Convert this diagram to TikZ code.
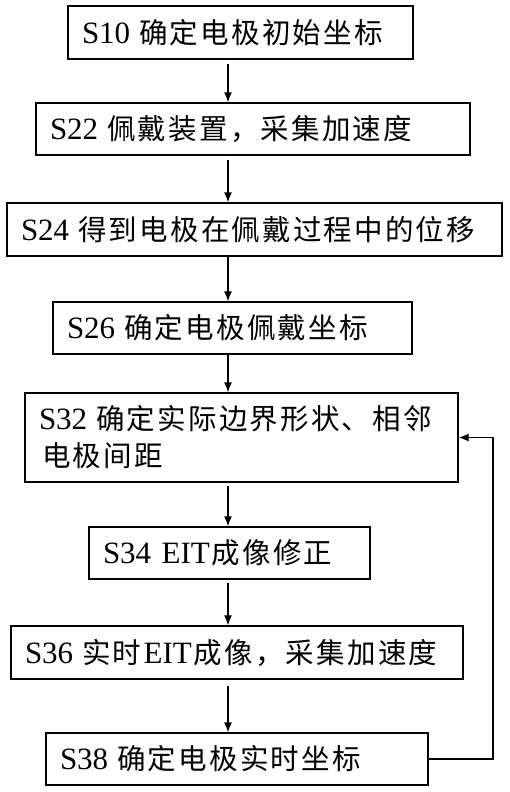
\documentclass[tikz,border=0pt]{standalone}
\usepackage{fontspec}
\setmainfont{Liberation Serif}
\newfontfamily\cjk{Noto Sans CJK SC}
\usetikzlibrary{arrows.meta}
\newlength\zhpitch
\setlength\zhpitch{30.7pt}
\def\zhloop#1{\ifx#1\relax\else\makebox[\zhpitch][l]{#1}\expandafter\zhloop\fi}
\newcommand\zh[1]{{\fontsize{28.5pt}{37pt}\selectfont\cjk\zhloop#1\relax}}
\newcommand\gapsp{\hspace{9pt}}
\tikzset{
  stepbox/.style={draw, line width=1.3pt, inner xsep=14pt, inner ysep=0pt, align=left,
    font=\fontsize{31pt}{37pt}\selectfont, anchor=center},
  flow/.style={line width=1.3pt, -{Latex[length=10pt,width=8pt]}}
}
\begin{document}
\begin{tikzpicture}[x=1pt,y=-1pt]
\useasboundingbox (0,0) rectangle (509,792);
\node[stepbox, minimum width=345pt, minimum height=53pt, text width=317pt] (b1) at (240.5,32.5) {\mbox{S10\gapsp\zh{确定电极初始坐标}}};
\node[stepbox, minimum width=434pt, minimum height=52pt, text width=406pt] (b2) at (253,129) {\mbox{S22\gapsp\zh{佩戴装置，采集加速度}}};
\node[stepbox, minimum width=495pt, minimum height=53pt, text width=467pt] (b3) at (254.5,229.5) {\mbox{S24\gapsp\zh{得到电极在佩戴过程中的位移}}};
\node[stepbox, minimum width=359pt, minimum height=52pt, text width=331pt] (b4) at (232.5,328) {\mbox{S26\gapsp\zh{确定电极佩戴坐标}}};
\node[stepbox, minimum width=433pt, minimum height=89pt, text width=405pt] (b5) at (241.5,437.5) {\mbox{S32\gapsp\zh{确定实际边界形状、相邻}}\\\mbox{\hspace{3pt}\zh{电极间距}}};
\node[stepbox, minimum width=281pt, minimum height=52pt, text width=253pt] (b6) at (229.5,553) {\mbox{S34 EIT\hspace{2pt}\zh{成像修正}}};
\node[stepbox, minimum width=452pt, minimum height=53pt, text width=424pt] (b7) at (237,652.5) {\mbox{S36\gapsp\zh{实时}EIT\hspace{2pt}\zh{成像，采集加速度}}};
\node[stepbox, minimum width=382pt, minimum height=52pt, text width=354pt] (b8) at (237,759) {\mbox{S38\gapsp\zh{确定电极实时坐标}}};
\coordinate (ax) at (228,0);
\coordinate (rx) at (493,0);
\draw[flow, shorten <=4pt] (b1.south -| ax) -- (b2.north -| ax);
\draw[flow, shorten <=4pt] (b2.south -| ax) -- (b3.north -| ax);
\draw[flow] (b3.south -| ax) -- (b4.north -| ax);
\draw[flow] (b4.south -| ax) -- (b5.north -| ax);
\draw[flow, shorten <=3pt] (b5.south -| ax) -- (b6.north -| ax);
\draw[flow, shorten <=3pt] (b6.south -| ax) -- (b7.north -| ax);
\draw[flow, shorten <=6pt] (b7.south -| ax) -- (b8.north -| ax);
\draw[flow] (b8.east) -- (b8.east -| rx) -- (b5.east -| rx) -- (b5.east);
\end{tikzpicture}
\end{document}
